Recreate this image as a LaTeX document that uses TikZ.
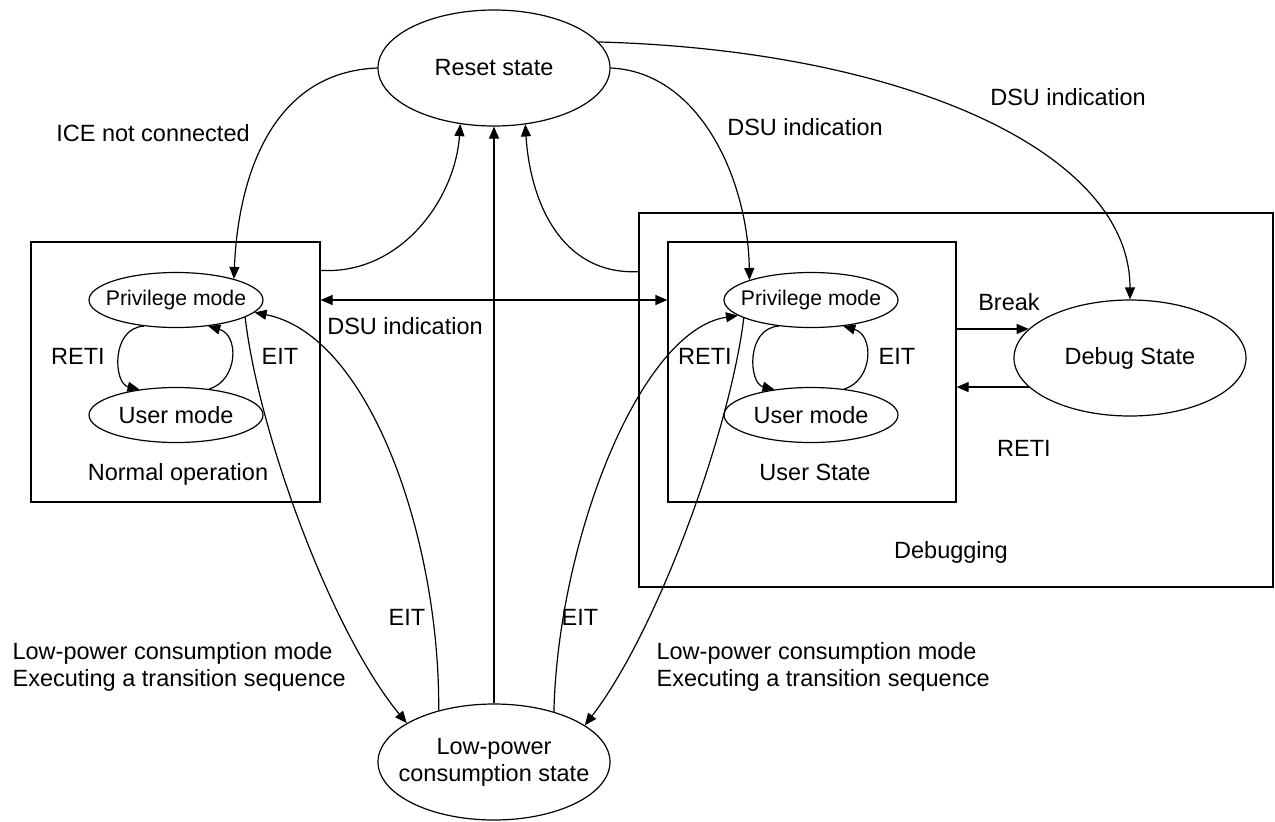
\documentclass[tikz,border=0pt]{standalone}
\usepackage{fontspec}
\setmainfont{Liberation Sans}
\usetikzlibrary{shapes.geometric,arrows.meta}

\begin{document}
\begin{tikzpicture}[x=0.5pt,y=-0.5pt,line width=0.6pt,
  every node/.style={font=\fontsize{11.75}{13.5}\selectfont},
  priv/.style={font=\fontsize{10.6}{12}\selectfont},
  arr/.style={-{Triangle[length=6pt,width=5pt]}},
  darr/.style={{Triangle[length=6pt,width=5pt]}-{Triangle[length=6pt,width=5pt]}},
  bigst/.style={ellipse,draw,inner sep=0pt,minimum width=116pt,minimum height=58pt},
  modest/.style={ellipse,draw,inner sep=0pt,minimum width=87pt,minimum height=27.5pt},
  box/.style={rectangle,draw,inner sep=0pt},
  txt/.style={inner sep=0pt}]
  \useasboundingbox (0,0) rectangle (1275,821);
  % boxes
  \node[box,minimum width=144.5pt,minimum height=130pt] (normal) at (175.5,372) {};
  \node[box,minimum width=317pt,minimum height=187pt] (dbg) at (956,400) {};
  \node[box,minimum width=144pt,minimum height=130pt] (usrst) at (812,372) {};
  % states
  \node[bigst,label=center:Reset state] (reset) at (494,68) {};
  \node[bigst,label=center:Debug State] (debug) at (1130,358) {};
  \node[bigst,label={[align=center]center:Low-power\\consumption state}] (lowp) at (494,762) {};
  \node[modest,label={[priv]center:Privilege mode}] (priL) at (176,300) {};
  \node[modest,label=center:User mode] (usrL) at (176,415) {};
  \node[modest,label={[priv]center:Privilege mode}] (priR) at (811,300) {};
  \node[modest,label=center:User mode] (usrR) at (811,415) {};
  % mode loops
  \foreach \p/\u in {priL/usrL,priR/usrR}{
    \draw[arr] (\p.-141) .. controls +(-33,2) and +(-26,-6) .. (\u.145);
    \draw[arr] (\u.38) .. controls +(29,-9) and +(31,9) .. (\p.-39);
  }
  % to and from reset
  \draw[arr] (reset.west) .. controls (270,72) and (238,180) .. (priL.20);
  \draw[arr] (normal.35) .. controls (400,275) and (455,200) .. (reset.-121);
  \draw[arr] (dbg.158) .. controls (560,275) and (530,200) .. (reset.-61);
  \draw[arr] (lowp.north) -- (reset.south);
  \draw[arr] (reset.east) .. controls (700,72) and (748,180) .. (priR.162);
  \draw[arr] (reset.14) .. controls (900,50) and (1130,150) .. (debug.north);
  % debug unit
  \draw[darr] (normal.east |- priL) -- (usrst.west |- priL);
  \draw[arr] (usrst.east |- debug.164) -- (debug.164);
  \draw[arr] (debug.-164) -- (usrst.east |- debug.-164);
  % low-power
  \draw[arr] (priL.-14) .. controls (258,430) and (330,630) .. (lowp.156);
  \draw[arr] (lowp.137) .. controls (440,540) and (370,335) .. (priL.-9);
  \draw[arr] (lowp.40) .. controls (558,540) and (640,330) .. (priR.192);
  \draw[arr] (priR.195) .. controls (730,430) and (658,630) .. (lowp.22);
  % labels
  \node[txt] (ice) at (153,133) {ICE not connected};
  \node[txt] (dsuA) at (805,127) {DSU indication};
  \node[txt] (dsuB) at (1068,97) {DSU indication};
  \node[txt] (dsuC) at (405,326) {DSU indication};
  \node[txt] (retiL) at (78,356) {RETI};
  \node[txt] (eitL) at (280,356) {EIT};
  \node[txt] (retiR) at (705,356) {RETI};
  \node[txt] (eitR) at (897,356) {EIT};
  \node[txt] (normtxt) at (178,474) {Normal operation};
  \node[txt] (usrtxt) at (815,472) {User State};
  \node[txt] (brk) at (1009,302) {Break};
  \node[txt] (retiD) at (1024,448) {RETI};
  \node[txt] (dbgtxt) at (951,552) {Debugging};
  \node[txt] (eitLo) at (407,617) {EIT};
  \node[txt] (eitRo) at (580,617) {EIT};
  \node[txt,anchor=west,align=left] (lpL) at (12,667) {Low-power consumption mode\\Executing a transition sequence};
  \node[txt,anchor=west,align=left] (lpR) at (656,667) {Low-power consumption mode\\Executing a transition sequence};
\end{tikzpicture}
\end{document}
